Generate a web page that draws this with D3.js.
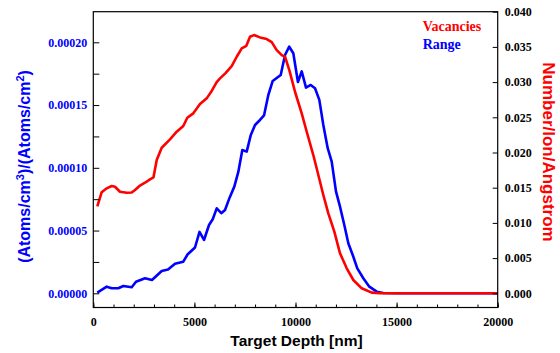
<!DOCTYPE html>
<html>
<head>
<meta charset="utf-8">
<script src="https://cdn.jsdelivr.net/npm/d3@7"></script>
<style>
  body { margin: 0; background: #fff; }
  svg { display: block; }
  .tick text { font-family: "Liberation Serif", "Times New Roman", serif; font-weight: bold; font-size: 12px; }
  .title { font-family: "Liberation Sans", Arial, sans-serif; font-weight: bold; }
</style>
</head>
<body>
<svg id="chart" width="560" height="353"></svg>
<script>
// depth in nm
const rangeDepth = [198, 663, 910, 1237, 1484, 1899, 2112, 2557, 2903, 3383, 3695, 4041, 4451, 4659, 5030, 5253, 5475, 5723, 5906, 6103, 6331, 6514, 6746, 6974, 7172, 7370, 7587, 7790, 7998, 8245, 8443, 8656, 8873, 9269, 9482, 9689, 9892, 10120, 10307, 10520, 10753, 10965, 11178, 11376, 11593, 11791, 12004, 12202, 12414, 12612, 12830, 13057, 13354, 13651, 14017, 14343, 15000, 20000];
// (Atoms/cm3)/(Atoms/cm2), in units of 1e-5
const rangeValues = [0.05, 0.53, 0.40, 0.40, 0.58, 0.48, 0.92, 1.20, 1.06, 1.78, 1.90, 2.36, 2.52, 3.09, 3.65, 4.89, 4.25, 5.44, 5.90, 6.77, 6.38, 6.64, 7.64, 8.50, 9.67, 11.42, 11.29, 12.62, 13.41, 13.81, 14.17, 15.80, 16.92, 17.40, 18.99, 19.65, 19.13, 16.84, 17.68, 16.39, 16.60, 16.34, 15.41, 13.41, 11.56, 10.49, 8.10, 6.90, 5.44, 3.99, 3.05, 1.99, 1.20, 0.53, 0.13, 0.02, 0, 0];

const vacDepth = [198, 415, 663, 910, 1073, 1321, 1652, 1899, 2062, 2310, 2557, 2804, 2977, 3136, 3383, 3794, 4125, 4451, 4649, 4946, 5277, 5609, 5821, 6103, 6267, 6539, 6845, 7093, 7340, 7567, 7750, 7948, 8245, 8577, 8824, 9071, 9318, 9482, 9694, 9976, 10307, 10555, 10881, 11129, 11376, 11623, 11920, 12202, 12533, 12860, 13275, 13770, 14180, 15000, 20000];
// Number/Ion/Angstrom
const vacValues = [0.01235, 0.01436, 0.01491, 0.01524, 0.01514, 0.01443, 0.01429, 0.01431, 0.01467, 0.01531, 0.01571, 0.01619, 0.01647, 0.01893, 0.02068, 0.02187, 0.02295, 0.02376, 0.02494, 0.02556, 0.02688, 0.02769, 0.02858, 0.03001, 0.03053, 0.03128, 0.03228, 0.03360, 0.03479, 0.03515, 0.03644, 0.03668, 0.03635, 0.03611, 0.03568, 0.03455, 0.03384, 0.03360, 0.03171, 0.02863, 0.02556, 0.02295, 0.01964, 0.01680, 0.01396, 0.01136, 0.00875, 0.00568, 0.00355, 0.00189, 0.00071, 0.00009, 0, 0, 0];

const xMajorTicks = [0, 5000, 10000, 15000, 20000];
const leftTicks = [0, 0.000025, 0.00005, 0.000075, 0.0001, 0.000125, 0.00015, 0.000175, 0.0002];
const rightTicks = [0, 0.005, 0.01, 0.015, 0.02, 0.025, 0.03, 0.035, 0.04];

const svg = d3.select('#chart');
const plotLeft = 93.3, plotRight = 497.7, plotTop = 11.7, plotBottom = 307.5;

const x = d3.scaleLinear().domain([0, 20000]).range([plotLeft, plotRight]);
const yL = d3.scaleLinear().domain([0, 0.0002]).range([293.3, 42.3]);
const yR = d3.scaleLinear().domain([0, 0.04]).range([293.3, plotTop]);

// lines
const rangeLine = d3.line()
  .x((d, i) => x(rangeDepth[i]))
  .y(d => yL(d * 1e-5));
const vacLine = d3.line()
  .x((d, i) => x(vacDepth[i]))
  .y(d => yR(d));

svg.append('path')
  .datum(rangeValues)
  .attr('d', rangeLine)
  .attr('fill', 'none')
  .attr('stroke', '#0000ff')
  .attr('stroke-width', 2.6)
  .attr('stroke-linejoin', 'round');

svg.append('path')
  .datum(vacValues)
  .attr('d', vacLine)
  .attr('fill', 'none')
  .attr('stroke', '#ff0000')
  .attr('stroke-width', 2.6)
  .attr('stroke-linejoin', 'round');

// bottom axis: minor ticks every 1000, majors labelled
svg.append('g')
  .attr('transform', `translate(0,${plotBottom})`)
  .call(d3.axisBottom(x).tickValues(d3.range(0, 20001, 1000)).tickSize(-3).tickFormat(''))
  .call(g => g.select('.domain').remove());

svg.append('g')
  .attr('transform', `translate(0,${plotBottom})`)
  .call(d3.axisBottom(x).tickValues(xMajorTicks).tickSize(-5).tickPadding(10).tickFormat(d3.format('d')))
  .call(g => g.select('.domain').remove())
  .call(g => g.selectAll('text').attr('fill', '#000'));

// left axis
svg.append('g')
  .attr('transform', `translate(${plotLeft},0)`)
  .call(d3.axisLeft(yL).tickValues(leftTicks).tickSize(-6).tickPadding(6)
    .tickFormat((d, i) => i % 2 === 0 ? d3.format('.5f')(d) : ''))
  .call(g => g.select('.domain').remove())
  .call(g => g.selectAll('text').attr('fill', '#0000ff'));

// right axis
svg.append('g')
  .attr('transform', `translate(${plotRight},0)`)
  .call(d3.axisRight(yR).tickValues(rightTicks).tickSize(-5).tickPadding(7).tickFormat(d3.format('.3f')))
  .call(g => g.select('.domain').remove())
  .call(g => g.selectAll('text').attr('fill', '#000'));

// frame
svg.append('rect')
  .attr('x', plotLeft).attr('y', plotTop)
  .attr('width', plotRight - plotLeft).attr('height', plotBottom - plotTop)
  .attr('fill', 'none')
  .attr('stroke', '#000')
  .attr('stroke-width', 1.2);

// axis titles
svg.append('text')
  .attr('class', 'title')
  .attr('x', (plotLeft + plotRight) / 2 + 1)
  .attr('y', 345.5)
  .attr('text-anchor', 'middle')
  .style('font-size', '15.5px')
  .text('Target Depth [nm]');

const lt = svg.append('text')
  .attr('class', 'title')
  .attr('transform', 'translate(29.5,166.5) rotate(-90)')
  .attr('text-anchor', 'middle')
  .attr('fill', '#0000ff')
  .style('font-size', '16px');
lt.append('tspan').text('(Atoms/cm');
lt.append('tspan').attr('dy', -6).style('font-size', '11px').text('3');
lt.append('tspan').attr('dy', 6).text(')/(Atoms/cm');
lt.append('tspan').attr('dy', -6).style('font-size', '11px').text('2');
lt.append('tspan').attr('dy', 6).text(')');

svg.append('text')
  .attr('class', 'title')
  .attr('transform', 'translate(543,152) rotate(90)')
  .attr('text-anchor', 'middle')
  .attr('fill', '#ff0000')
  .style('font-size', '17px')
  .text('Number/Ion/Angstrom');

// legend
const legend = [['Vacancies', '#ff0000'], ['Range', '#0000ff']];
svg.selectAll('.legend')
  .data(legend)
  .enter()
  .append('text')
  .attr('class', 'legend')
  .attr('x', 422.7)
  .attr('y', (d, i) => 31 + i * 18)
  .attr('fill', d => d[1])
  .style('font-family', '"Liberation Serif", "Times New Roman", serif')
  .style('font-weight', 'bold')
  .style('font-size', '14px')
  .text(d => d[0]);
</script>
</body>
</html>
